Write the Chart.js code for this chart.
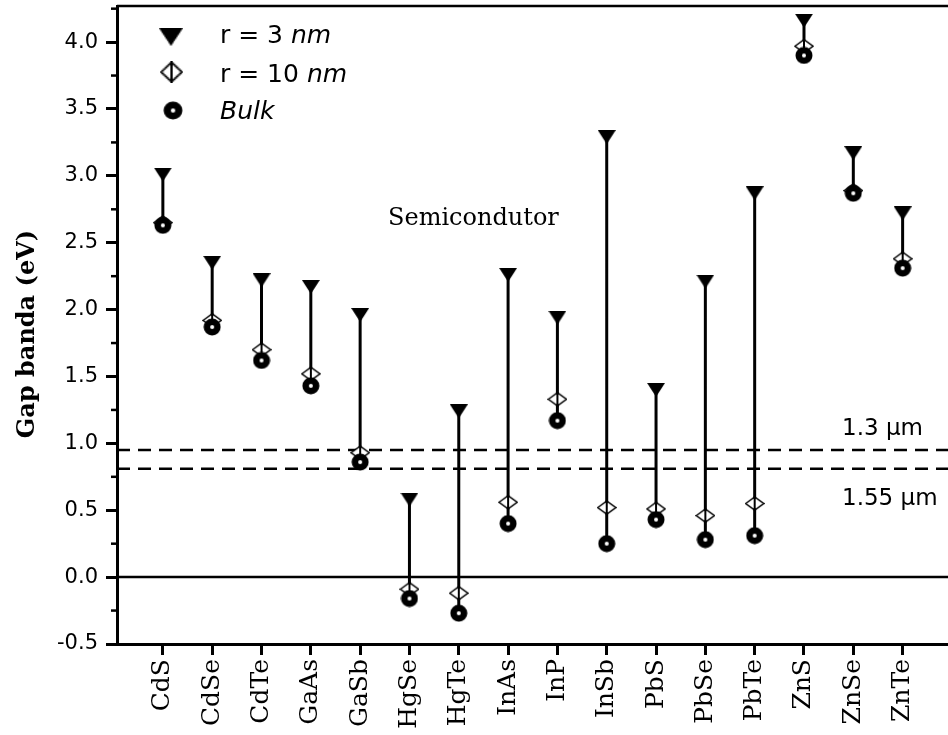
<!DOCTYPE html>
<html>
<head>
<meta charset="utf-8">
<script src="https://cdn.jsdelivr.net/npm/chart.js@4"></script>
<style>
  html, body { margin: 0; padding: 0; background: #fff; overflow: hidden; }
  #wrap { width: 948px; height: 735px; position: relative; }
</style>
</head>
<body>
<div id="wrap"><canvas id="grafico"></canvas></div>
<script>
// Gap de banda: pontos quânticos r = 3 nm, r = 10 nm e bulk
const materiais = ['CdS','CdSe','CdTe','GaAs','GaSb','HgSe','HgTe','InAs','InP','InSb','PbS','PbSe','PbTe','ZnS','ZnSe','ZnTe'];
const gapR3   = [3.01, 2.35, 2.22, 2.17, 1.96, 0.58, 1.24, 2.26, 1.94, 3.29, 1.40, 2.21, 2.87, 4.16, 3.17, 2.72];
const gapR10  = [2.65, 1.92, 1.70, 1.52, 0.93, -0.09, -0.12, 0.56, 1.33, 0.52, 0.51, 0.46, 0.55, 3.97, 2.89, 2.38];
const gapBulk = [2.63, 1.87, 1.62, 1.43, 0.86, -0.16, -0.27, 0.40, 1.17, 0.25, 0.43, 0.28, 0.31, 3.90, 2.87, 2.31];

// linhas de referência (telecom)
const linha13  = 0.95;   // 1.3 um
const linha155 = 0.81;   // 1.55 um
const xMin = -0.93, xMax = 15.92;
const yMin = -0.5, yMax = 4.27;

// símbolos desenhados à mão (estilo Origin)
function simbolo(w, h, desenho) {
    const c = document.createElement('canvas');
    c.width = w; c.height = h;
    desenho(c.getContext('2d'), w, h);
    return c;
}
const triangulo = simbolo(18, 14, (g, w, h) => {
    g.fillStyle = '#000';
    g.beginPath(); g.moveTo(0, 0); g.lineTo(w, 0); g.lineTo(w/2, h); g.closePath(); g.fill();
});
const losango = simbolo(20, 15, (g, w, h) => {
    g.fillStyle = '#fff'; g.strokeStyle = '#000'; g.lineWidth = 1.5;
    g.beginPath(); g.moveTo(1, h/2); g.lineTo(w/2, 1); g.lineTo(w-1, h/2); g.lineTo(w/2, h-1); g.closePath();
    g.fill(); g.stroke();
    g.lineWidth = 2;
    g.beginPath(); g.moveTo(w/2, 0); g.lineTo(w/2, h); g.stroke();
});
const bolinha = simbolo(18, 18, (g, w, h) => {
    g.fillStyle = '#000';
    g.beginPath(); g.arc(w/2, h/2, 8.5, 0, Math.PI*2); g.fill();
    g.fillStyle = '#fff';
    g.beginPath(); g.arc(w/2, h/2, 2, 0, Math.PI*2); g.fill();
});

// hastes verticais entre r = 3 nm e bulk
const hastes = [];
materiais.forEach((m, i) => {
    hastes.push({x: i, y: gapR3[i]}, {x: i, y: gapBulk[i]}, {x: i, y: null});
});

const pontos = arr => arr.map((v, i) => ({x: i, y: v}));
const horizontal = v => [{x: xMin, y: v}, {x: xMax, y: v}];

// sem folgas extras do layout
const semFolga = (s, k, n) => {
    s[k] = n;
    s.paddingTop = 0; s.paddingBottom = 0; s.paddingLeft = 0; s.paddingRight = 0;
};

const textos = {
    id: 'textos',
    beforeDatasetsDraw(chart) {
        const {ctx, chartArea: a} = chart;
        ctx.save();
        ctx.strokeStyle = '#000'; ctx.lineWidth = 2.5;
        ctx.beginPath(); ctx.moveTo(a.left, a.top); ctx.lineTo(a.right, a.top); ctx.stroke();
        // ticks menores do eixo y
        const ys = chart.scales.y;
        ctx.lineWidth = 2.5;
        for (let v = -0.25; v < yMax; v += 0.5) {
            const py = ys.getPixelForValue(v);
            ctx.beginPath(); ctx.moveTo(a.left - 6, py); ctx.lineTo(a.left, py); ctx.stroke();
        }
        ctx.restore();
    },
    afterDraw(chart) {
        const ctx = chart.ctx;
        ctx.save();
        ctx.fillStyle = '#000';
        ctx.textBaseline = 'alphabetic';

        // legenda
        ctx.drawImage(triangulo, 159, 28, 24, 18);
        ctx.drawImage(losango, 160, 61, 23, 22);
        ctx.drawImage(bolinha, 163, 101, 20, 19);
        const sans = '25px "DejaVu Sans"';
        const sansIt = 'italic 25px "DejaVu Sans"';
        let x = 220;
        ctx.font = sans; ctx.fillText('r = 3 ', x, 43);
        x += ctx.measureText('r = 3 ').width;
        ctx.font = sansIt; ctx.fillText('nm', x, 43);
        x = 220;
        ctx.font = sans; ctx.fillText('r = 10 ', x, 82);
        x += ctx.measureText('r = 10 ').width;
        ctx.font = sansIt; ctx.fillText('nm', x, 82);
        ctx.font = sansIt; ctx.fillText('Bulk', 220, 119);

        ctx.font = '24px "DejaVu Serif"';
        ctx.fillText('Semicondutor', 388, 225);

        ctx.font = '23px "DejaVu Sans"';
        ctx.fillText('1.3 \u03bcm', 842, 435);
        ctx.fillText('1.55 \u03bcm', 842, 505);

        // título do eixo y
        ctx.translate(34, 334);
        ctx.rotate(-Math.PI / 2);
        ctx.font = 'bold 24px "DejaVu Serif"';
        ctx.textAlign = 'center';
        ctx.fillText('Gap banda (eV)', 0, 0);
        ctx.restore();
    }
};

new Chart(document.getElementById('grafico'), {
    type: 'scatter',
    data: {
        datasets: [
            { type: 'line', data: hastes, borderColor: '#000', borderWidth: 3, pointRadius: 0, spanGaps: false, order: 3 },
            { type: 'line', data: horizontal(0), borderColor: '#000', borderWidth: 2.5, pointRadius: 0, order: 4 },
            { type: 'line', data: horizontal(linha13), borderColor: '#000', borderWidth: 2.5, borderDash: [13, 8], pointRadius: 0, order: 4 },
            { type: 'line', data: horizontal(linha155), borderColor: '#000', borderWidth: 2.5, borderDash: [13, 8], pointRadius: 0, order: 4 },
            { label: 'r = 3 nm', data: pontos(gapR3), pointStyle: triangulo, pointRadius: 8, order: 2 },
            { label: 'r = 10 nm', data: pontos(gapR10), pointStyle: losango, pointRadius: 8, order: 1 },
            { label: 'Bulk', data: pontos(gapBulk), pointStyle: bolinha, pointRadius: 8, order: 0 }
        ]
    },
    options: {
        responsive: true,
        maintainAspectRatio: false,
        animation: false,
        layout: { autoPadding: false, padding: { top: 6, right: 0, left: 0, bottom: 0 } },
        plugins: { legend: { display: false }, tooltip: { enabled: false } },
        scales: {
            x: {
                type: 'linear', min: xMin, max: xMax,
                afterBuildTicks: s => { s.ticks = materiais.map((m, i) => ({value: i})); },
                afterFit: s => semFolga(s, 'height', 91),
                border: { display: true, color: '#000', width: 3 },
                grid: { drawOnChartArea: false, drawTicks: true, tickLength: 11, tickWidth: 3, tickColor: '#000' },
                ticks: {
                    autoSkip: false, minRotation: 90, maxRotation: 90, padding: 4, color: '#000',
                    font: { family: '"DejaVu Serif"', size: 25 },
                    callback: v => materiais[Math.round(v)] ?? ''
                }
            },
            y: {
                min: yMin, max: yMax,
                afterFit: s => semFolga(s, 'width', 117),
                border: { display: true, color: '#000', width: 3 },
                grid: { drawOnChartArea: false, drawTicks: true, tickLength: 11, tickWidth: 3, tickColor: '#000' },
                ticks: {
                    stepSize: 0.5, includeBounds: false, padding: 8, color: '#000',
                    font: { family: '"DejaVu Sans"', size: 21 },
                    callback: v => v.toFixed(1)
                }
            }
        }
    },
    plugins: [textos]
});
</script>
</body>
</html>
